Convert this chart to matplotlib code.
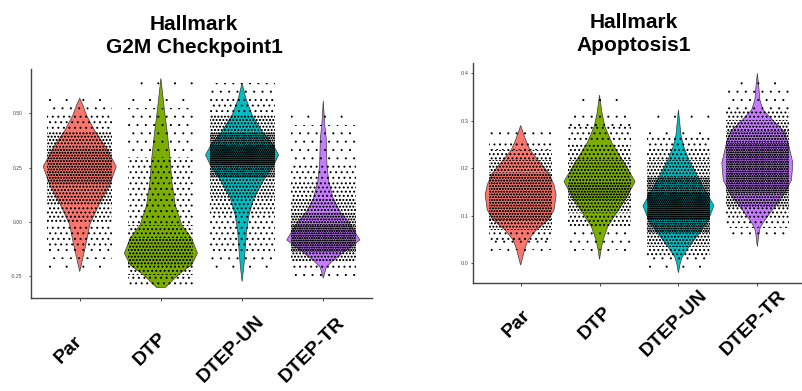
import numpy as np
import matplotlib
matplotlib.use('Agg')
import matplotlib.pyplot as plt
import matplotlib.hatch as mhatch
from matplotlib.patches import Rectangle
from matplotlib.transforms import ScaledTranslation

plt.rcParams['font.family'] = ['Liberation Sans', 'DejaVu Sans']
plt.rcParams['hatch.linewidth'] = 0.7

groups = ['Par', 'DTP', 'DTEP-UN', 'DTEP-TR']
colors = ['#F8766D', '#7CAE00', '#00BFC4', '#C77CFF']

# ---------------------------------------------------------------------------- #
# Violin outlines: score level (y) and relative width     #
# ---------------------------------------------------------------------------- #

# Hallmark G2M Checkpoint1
g2m_par_y = [-0.229, -0.17, -0.11, -0.01, 0.08, 0.17, 0.255, 0.34, 0.42, 0.49, 0.54, 0.57]
g2m_par_w = [0.0, 0.08, 0.16, 0.28, 0.53, 0.82, 1.0, 0.73, 0.41, 0.19, 0.08, 0.0]
g2m_dtp_y = [-0.302, -0.243, -0.198, -0.144, -0.075, -0.014, 0.078, 0.186, 0.293, 0.416, 0.523, 0.60, 0.661]
g2m_dtp_w = [0.12, 0.48, 0.84, 1.0, 0.84, 0.57, 0.39, 0.30, 0.25, 0.17, 0.09, 0.04, 0.0]
g2m_un_y = [-0.275, -0.20, -0.137, -0.045, 0.032, 0.109, 0.201, 0.262, 0.308, 0.355, 0.416, 0.493, 0.57, 0.639]
g2m_un_w = [0.0, 0.05, 0.08, 0.12, 0.19, 0.32, 0.62, 0.87, 1.0, 0.85, 0.55, 0.27, 0.10, 0.0]
g2m_tr_y = [-0.259, -0.21, -0.183, -0.137, -0.083, -0.014, 0.047, 0.109, 0.186, 0.262, 0.385, 0.446, 0.557]
g2m_tr_w = [0.0, 0.08, 0.23, 0.57, 1.0, 0.75, 0.46, 0.27, 0.15, 0.10, 0.08, 0.04, 0.0]

# Hallmark Apoptosis1
apo_par_y = [-0.004, 0.028, 0.049, 0.070, 0.091, 0.112, 0.144, 0.165, 0.189, 0.217, 0.239, 0.26, 0.277, 0.290]
apo_par_w = [0.0, 0.11, 0.21, 0.44, 0.77, 0.94, 1.0, 0.94, 0.80, 0.49, 0.26, 0.14, 0.06, 0.0]
apo_dtp_y = [0.008, 0.028, 0.049, 0.077, 0.105, 0.133, 0.172, 0.217, 0.253, 0.288, 0.316, 0.354]
apo_dtp_w = [0.0, 0.04, 0.10, 0.23, 0.47, 0.72, 1.0, 0.65, 0.35, 0.15, 0.07, 0.0]
apo_un_y = [-0.020, 0.0, 0.014, 0.035, 0.063, 0.091, 0.121, 0.147, 0.182, 0.217, 0.245, 0.27, 0.323]
apo_un_w = [0.0, 0.05, 0.11, 0.30, 0.58, 0.84, 1.0, 0.80, 0.54, 0.30, 0.15, 0.07, 0.0]
apo_tr_y = [0.035, 0.06, 0.075, 0.091, 0.119, 0.147, 0.175, 0.211, 0.253, 0.278, 0.302, 0.323, 0.344, 0.372, 0.400]
apo_tr_w = [0.0, 0.04, 0.08, 0.21, 0.49, 0.77, 0.96, 1.0, 0.87, 0.75, 0.42, 0.16, 0.07, 0.04, 0.0]

# how crowded the jittered cells look at the widest part of each violin
g2m_dots = [6, 5, 8, 8]
apo_dots = [6, 6, 8, 7]

g2m_ticks = [-0.25, 0.0, 0.25, 0.5]
g2m_ticklabels = ['-0.25', '0.00', '0.25', '0.50']
apo_ticks = [0.0, 0.1, 0.2, 0.3, 0.4]
apo_ticklabels = ['0.0', '0.1', '0.2', '0.3', '0.4']

AXCOL = '#444444'
DOT_RADIUS = 0.0055   # in hatch-tile units (one tile = one inch)


# '.' hatch with a fixed small dot size, whatever the density
class FineDots(mhatch.Circles):
    filled = True

    def __init__(self, hatch, density):
        self.num_rows = hatch.count('.') * density
        self.size = DOT_RADIUS * max(self.num_rows, 1)
        super().__init__(hatch, density)


mhatch._hatch_types[mhatch._hatch_types.index(mhatch.SmallFilledCircles)] = FineDots


def ax_violins(ax, profiles, dots, ylim, yticks, yticklabels, ylab_size, ylab_pad,
               xlab_pad, xlab_dx):
    for i, (y, w) in enumerate(profiles):
        pos = i + 1
        y = np.asarray(y)
        half = 0.45 * np.asarray(w)
        ax.fill(np.concatenate([pos - half, (pos + half)[::-1]]),
                np.concatenate([y, y[::-1]]),
                facecolor=colors[i], edgecolor='#3a3a3a', lw=0.5, zorder=2)

        # jittered cells, drawn as stipple bands over the violin
        for k in range(len(y) - 1):
            wmid = (w[k] + w[k + 1]) / 2
            level = max(1, int(round(dots[i] * np.sqrt(wmid))))
            ax.add_patch(Rectangle((pos - 0.4, y[k]), 0.8, y[k + 1] - y[k],
                                   hatch='.' * level, facecolor='none',
                                   edgecolor='black', lw=0, zorder=3))

    ax.set_xlim(0.4, 4.6)
    ax.set_ylim(*ylim)
    for s in ['top', 'right']:
        ax.spines[s].set_visible(False)
    for s in ['left', 'bottom']:
        ax.spines[s].set_color(AXCOL)
        ax.spines[s].set_linewidth(1.0)

    ax.set_yticks(yticks)
    ax.set_yticklabels(yticklabels)
    ax.tick_params(axis='y', length=1.8, width=0.7, color=AXCOL, pad=ylab_pad,
                   labelsize=ylab_size, labelcolor='#4d4d4d')

    ax.set_xticks(range(1, 5))
    ax.set_xticklabels(groups, rotation=45, ha='center', va='center',
                       rotation_mode='anchor', fontsize=14, fontweight='bold')
    ax.tick_params(axis='x', length=1.8, width=0.7, color=AXCOL, pad=xlab_pad)
    shift = ScaledTranslation(xlab_dx / 100, 0, ax.figure.dpi_scale_trans)
    for lab in ax.get_xticklabels():
        lab.set_transform(lab.get_transform() + shift)
    return ax


fig = plt.figure(figsize=(8.02, 3.91), dpi=100)

ax1 = fig.add_axes([31 / 802, 1 - 297.7 / 391, 341 / 802, 228.7 / 391])
ax_violins(ax1,
           [(g2m_par_y, g2m_par_w), (g2m_dtp_y, g2m_dtp_w),
            (g2m_un_y, g2m_un_w), (g2m_tr_y, g2m_tr_w)],
           g2m_dots, (-0.349, 0.704), g2m_ticks, g2m_ticklabels,
           ylab_size=3.6, ylab_pad=4.3, xlab_pad=35.5, xlab_dx=-11)

ax2 = fig.add_axes([473.3 / 802, 1 - 282.7 / 391, 331.4 / 802, 219.4 / 391])
ax_violins(ax2,
           [(apo_par_y, apo_par_w), (apo_dtp_y, apo_dtp_w),
            (apo_un_y, apo_un_w), (apo_tr_y, apo_tr_w)],
           apo_dots, (-0.041, 0.421), apo_ticks, apo_ticklabels,
           ylab_size=4.1, ylab_pad=1.8, xlab_pad=27.5, xlab_dx=-4)

fig.text(194 / 802, 1 - 15 / 391, 'Hallmark\nG2M Checkpoint1', ha='center', va='top',
         fontsize=15, fontweight='bold', linespacing=1.25)
fig.text(634 / 802, 1 - 13.5 / 391, 'Hallmark\nApoptosis1', ha='center', va='top',
         fontsize=15, fontweight='bold', linespacing=1.25)

fig.savefig('out.png', dpi=100, facecolor='white')
